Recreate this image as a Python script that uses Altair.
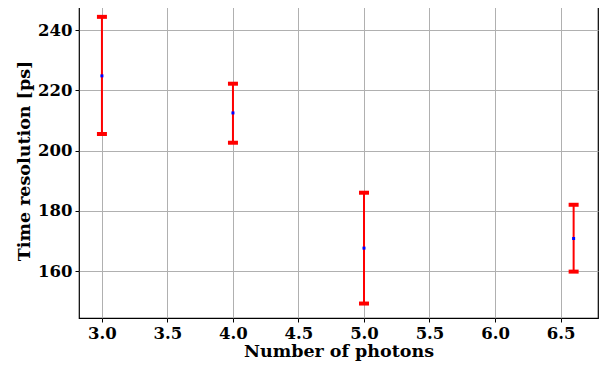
import altair as alt
import pandas as pd

photons = [3.0, 4.0, 5.0, 6.6]
resolution = [224.8, 212.5, 167.6, 170.8]
lower = [205.5, 202.6, 149.2, 159.8]
upper = [244.4, 222.2, 186.0, 182.0]

df = pd.DataFrame({"photons": photons, "res": resolution, "lo": lower, "hi": upper})

FONT = "DejaVu Serif"
x = alt.X("photons:Q", title="Number of photons",
          scale=alt.Scale(domain=[2.825, 6.786], nice=False, zero=False),
          axis=alt.Axis(values=[3.0, 3.5, 4.0, 4.5, 5.0, 5.5, 6.0, 6.5], format=".1f"))
yscale = alt.Scale(domain=[144.4, 249.0], nice=False, zero=False)

base = alt.Chart(df)
bars = base.mark_rule(color="#ff0000", strokeWidth=2).encode(
    x=x,
    y=alt.Y("lo:Q", scale=yscale, title="Time resolution [ps]",
            axis=alt.Axis(values=[160, 180, 200, 220, 240])),
    y2="hi:Q")
caps_lo = base.mark_tick(color="#ff0000", orient="horizontal", size=10, thickness=4, opacity=1).encode(
    x=x, y=alt.Y("lo:Q", scale=yscale))
caps_hi = base.mark_tick(color="#ff0000", orient="horizontal", size=10, thickness=4, opacity=1).encode(
    x=x, y=alt.Y("hi:Q", scale=yscale))
pts = base.mark_square(color="#0000ff", size=9, opacity=1).encode(
    x=x, y=alt.Y("res:Q", scale=yscale))

chart = alt.layer(bars, caps_lo, caps_hi, pts).properties(
    width=519, height=315,
    autosize=alt.AutoSizeParams(type="none"),
    padding={"left": 71, "top": -5, "right": 6, "bottom": 46},
).configure_view(stroke="black", strokeWidth=1.2).configure_axis(
    labelFont=FONT, titleFont=FONT, labelFontWeight="bold", titleFontWeight="bold",
    labelFontSize=16.5, titleFontSize=17.5, labelColor="black", titleColor="black",
    gridColor="#b0b0b0", gridWidth=1, tickColor="black", tickSize=4, domain=False,
    labelPadding=3,
).configure_axisX(titlePadding=1).configure_axisY(titlePadding=4)

chart.save("out.html", embed_options={"renderer": "svg", "actions": False})
